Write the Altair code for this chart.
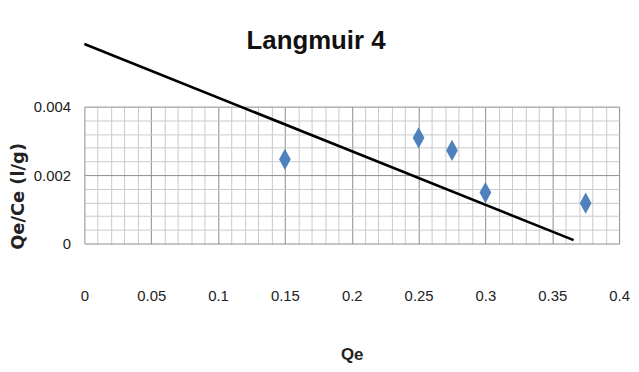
import altair as alt
import pandas as pd

# Data
qe = [0.15, 0.25, 0.275, 0.30, 0.375]
qe_ce = [0.00246, 0.00309, 0.00272, 0.00149, 0.00118]

# Trend line end points
fit_x = [0.0, 0.366]
fit_y = [0.00583, 0.0001]

# Grid / tick positions
x_grid = [0.0, 0.01, 0.02, 0.03, 0.04, 0.05, 0.06, 0.07, 0.08, 0.09,
          0.1, 0.11, 0.12, 0.13, 0.14, 0.15, 0.16, 0.17, 0.18, 0.19,
          0.2, 0.21, 0.22, 0.23, 0.24, 0.25, 0.26, 0.27, 0.28, 0.29,
          0.3, 0.31, 0.32, 0.33, 0.34, 0.35, 0.36, 0.37, 0.38, 0.39, 0.4]
y_grid = [0.0, 0.0004, 0.0008, 0.0012, 0.0016, 0.002,
          0.0024, 0.0028, 0.0032, 0.0036, 0.004]

points = pd.DataFrame({"Qe": qe, "QeCe": qe_ce})
fit = pd.DataFrame({"Qe": fit_x, "QeCe": fit_y})

font = "Liberation Sans, Arial, sans-serif"
wide_bold = "DejaVu Sans, Verdana, sans-serif"

major_x = "abs(datum.value*20 - round(datum.value*20)) < 0.000001"
major_y = "abs(datum.value*500 - round(datum.value*500)) < 0.000001"

x_axis = alt.Axis(
    values=x_grid,
    tickCount=200,
    grid=True,
    gridColor={"condition": {"test": major_x, "value": "#8c8c8c"}, "value": "#c9c9c9"},
    gridWidth=1,
    ticks=False,
    domain=False,
    labelExpr=f"({major_x}) ? toString(round(datum.value*100)/100) : ''",
    labelFont=font,
    labelFontSize=15,
    labelColor="#222222",
    labelPadding=45,
    labelBaseline="top",
    labelFlush=False,
    labelOverlap=False,
    title="Qe",
    titleFont=font,
    titleFontSize=17,
    titleFontWeight="bold",
    titleColor="#222222",
    titleBaseline="alphabetic",
    titleY=117,
)

y_axis = alt.Axis(
    values=y_grid,
    tickCount=200,
    grid=True,
    gridColor={"condition": {"test": major_y, "value": "#8c8c8c"}, "value": "#c9c9c9"},
    gridWidth=1,
    ticks=False,
    domain=False,
    labelExpr=f"({major_y}) ? toString(round(datum.value*1000)/1000) : ''",
    labelFont=font,
    labelFontSize=15,
    labelColor="#222222",
    labelPadding=14,
    labelOverlap=False,
    labelBaseline="middle",
    title="Qe/Ce (l/g)",
    titleFont=wide_bold,
    titleFontSize=18,
    titleFontWeight="bold",
    titleColor="#222222",
    titleAngle=270,
    titleBaseline="middle",
    titleAlign="center",
    titleX=-66,
    titleY=90,
)

xs = alt.Scale(domain=[0, 0.4], nice=False, zero=False)
ys = alt.Scale(domain=[0, 0.004], nice=False, zero=False)

pts = alt.Chart(points).mark_point(
    shape="M0,-1L0.55,0L0,1L-0.55,0Z",
    size=460,
    filled=True,
    color="#4F81BD",
    opacity=1,
).encode(
    x=alt.X("Qe:Q", scale=xs, axis=x_axis),
    y=alt.Y("QeCe:Q", scale=ys, axis=y_axis),
)

line = alt.Chart(fit).mark_line(color="#000000", strokeWidth=2.6).encode(
    x=alt.X("Qe:Q", scale=xs),
    y=alt.Y("QeCe:Q", scale=ys),
)

chart = alt.layer(pts, line).properties(
    width=539,
    height=138,
    title=alt.TitleParams(
        "Langmuir 4",
        font=font,
        fontSize=26,
        fontWeight="bold",
        color="#111111",
        anchor="middle",
        frame="group",
        baseline="alphabetic",
        offset=-36,
        dx=-36,
    ),
    autosize=alt.AutoSizeParams(type="none"),
    padding={"left": 77, "top": 98, "right": 12, "bottom": 120},
).configure_view(stroke=None)

chart.save("out.html", embed_options={"renderer": "svg", "actions": False})
